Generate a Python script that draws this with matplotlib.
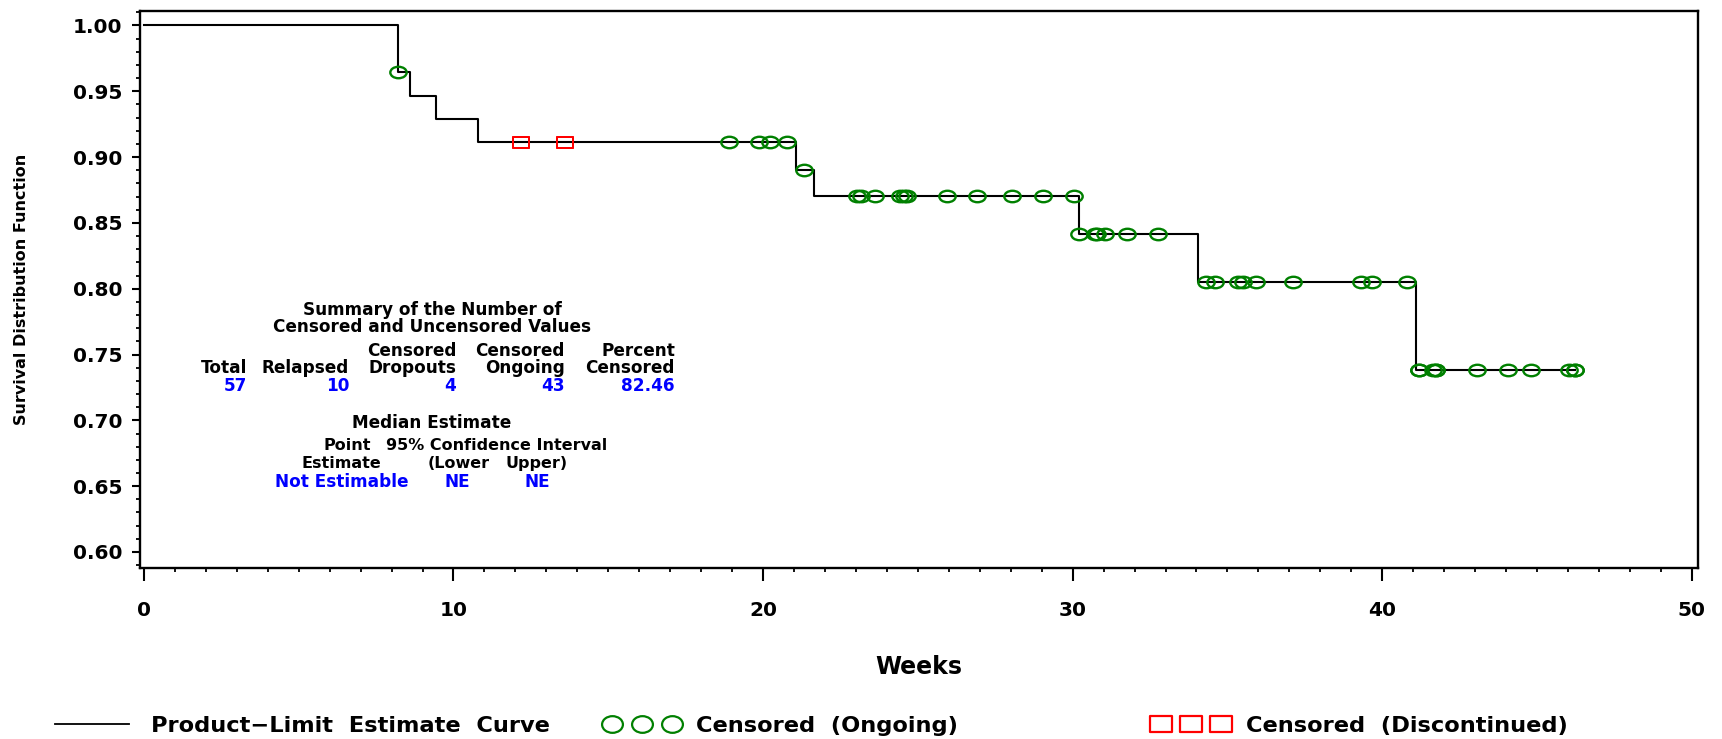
import numpy as np
import matplotlib
matplotlib.use('Agg')
import matplotlib.pyplot as plt
from matplotlib.path import Path
from matplotlib.transforms import Affine2D
from matplotlib.lines import Line2D
from matplotlib.ticker import MultipleLocator, FormatStrFormatter

plt.rcParams['font.family'] = ['DejaVu Sans']
plt.rcParams['font.weight'] = 'bold'

# product-limit steps: week of each step and survival after it
step_weeks = [0, 8.2, 8.6, 9.44, 10.8, 21.06, 21.64, 30.22, 34.04, 41.09]
step_surv = [1.0, 0.9649, 0.9467, 0.9290, 0.9113, 0.8905, 0.8702, 0.8413, 0.8052, 0.7382]
last_week = 46.22

# censored times
ongoing_weeks = [8.2,
                 18.91, 19.88, 20.22, 20.77,
                 21.33,
                 23.02, 23.16, 23.61, 24.42, 24.55, 24.65, 25.93, 26.90, 28.05, 29.03, 30.05,
                 30.22, 30.72, 30.80, 31.04, 31.74, 32.77,
                 34.30, 34.60, 35.35, 35.49, 35.92, 37.12, 39.33, 39.66, 40.79,
                 41.19, 41.19, 41.63, 41.75, 41.75, 43.07, 44.07, 44.79, 46.04, 46.22, 46.22]
dropout_weeks = [12.18, 12.18, 13.60, 13.60]

# summary table
sum_head1 = ['', '', 'Censored', 'Censored', 'Percent']
sum_head2 = ['Total', 'Relapsed', 'Dropouts', 'Ongoing', 'Censored']
sum_vals = ['57', '10', '4', '43', '82.46']
med_vals = ['Not Estimable', 'NE', 'NE']

W, H = 1722, 739
def fx(x):
    return x / W
def fy(y):
    return 1 - y / H

def surv_at(t):
    i = np.searchsorted(step_weeks, t, side='right') - 1
    return step_surv[i]

# squashed circle / box markers like the SAS output
ell = Path.unit_circle().transformed(Affine2D().scale(1, 0.7))
ell_leg = Path.unit_circle().transformed(Affine2D().scale(1, 0.8))
box = Path([(-1, -0.72), (1, -0.72), (1, 0.72), (-1, 0.72), (-1, -0.72)],
           [Path.MOVETO, Path.LINETO, Path.LINETO, Path.LINETO, Path.CLOSEPOLY])
box_leg = Path([(-1, -0.78), (1, -0.78), (1, 0.78), (-1, 0.78), (-1, -0.78)],
               [Path.MOVETO, Path.LINETO, Path.LINETO, Path.LINETO, Path.CLOSEPOLY])

fig = plt.figure(figsize=(W / 100, H / 100), dpi=100)
ax = fig.add_axes([fx(140), fy(567.5), fx(1698) - fx(140), fy(11) - fy(567.5)])

xs = step_weeks + [last_week]
ys = step_surv + [step_surv[-1]]
ax.step(xs, ys, where='post', color='black', lw=1.5, zorder=2)

ax.plot(ongoing_weeks, [surv_at(t) for t in ongoing_weeks], ls='none', marker=ell,
        ms=11.8, mfc='none', mec='#008000', mew=1.7, zorder=3)
ax.plot(dropout_weeks, [surv_at(t) for t in dropout_weeks], ls='none', marker=box,
        ms=11, mfc='none', mec='#ff0000', mew=1.4, zorder=3)

ax.set_xlim(-0.126, 50.2)
ax.set_ylim(0.5882, 1.011)
ax.xaxis.set_major_locator(MultipleLocator(10))
ax.xaxis.set_minor_locator(MultipleLocator(1))
ax.yaxis.set_major_locator(MultipleLocator(0.05))
ax.yaxis.set_minor_locator(MultipleLocator(0.01))
ax.yaxis.set_major_formatter(FormatStrFormatter('%.2f'))
ax.tick_params(axis='x', which='major', length=9.4, width=1.5, pad=15, labelsize=14.5)
ax.tick_params(axis='x', which='minor', length=3.2, width=1.3)
ax.tick_params(axis='y', which='major', length=5.8, width=1.5, pad=7, labelsize=14.5)
ax.tick_params(axis='y', which='minor', length=2.9, width=1.3)
for sp in ax.spines.values():
    sp.set_linewidth(1.7)

ax.set_xlabel('Weeks', fontsize=17, fontweight='bold')
ax.xaxis.label.set_va('center')
ax.xaxis.set_label_coords(0.5, (567.5 - 666.7) / 556.5)
ax.set_ylabel('Survival Distribution Function', fontsize=11.5, fontweight='bold')
ax.yaxis.label.set_va('center')
ax.yaxis.set_label_coords((21 - 140) / 1558, 0.5)

# summary text block
def txt(x, y, s, ha='center', color='black', size=12.2):
    fig.text(fx(x), fy(y), s, ha=ha, va='center', fontsize=size, fontweight='bold', color=color)

txt(432, 310, 'Summary of the Number of')
txt(432, 327, 'Censored and Uncensored Values')
col_right = [247, 349, 456, 565, 675]
for xr, h1, h2, v in zip(col_right, sum_head1, sum_head2, sum_vals):
    if h1:
        txt(xr, 351, h1, ha='right')
    txt(xr, 368, h2, ha='right')
    txt(xr, 386, v, ha='right', color='#0000ff')

txt(432, 423, 'Median Estimate')
txt(347, 446, 'Point', size=11.5)
txt(497, 446, '95% Confidence Interval', size=11.5)
txt(341, 463, 'Estimate', size=11.5)
txt(459, 463, '(Lower', size=11.5)
txt(537, 463, 'Upper)', size=11.5)
for xc, v in zip([342, 457, 537], med_vals):
    txt(xc, 482, v, color='#0000ff')

# legend, three separate entries like the SAS layout
h_line = Line2D([], [], color='black', lw=1.3)
h_ong = Line2D([], [], ls='none', marker=ell_leg, ms=15, mfc='none', mec='#008000', mew=1.6)
h_drop = Line2D([], [], ls='none', marker=box_leg, ms=15.5, mfc='none', mec='#ff0000', mew=1.6)
entries = [(h_line, 'Product\u2212Limit  Estimate  Curve', 55, 1.0, 1),
           (h_ong, 'Censored  (Ongoing)', 605.3, 0.77, 3),
           (h_drop, 'Censored  (Discontinued)', 1154.3, 0.8, 3)]
for h, lab, x0, tp, npts in entries:
    fig.legend([h], [lab], loc='center left', bbox_to_anchor=(fx(x0), fy(726)),
               frameon=False, borderpad=0, borderaxespad=0, handlelength=3.27,
               handletextpad=tp, numpoints=npts, prop={'size': 16.2, 'weight': 'bold'})

fig.savefig('out.png', dpi=100)
